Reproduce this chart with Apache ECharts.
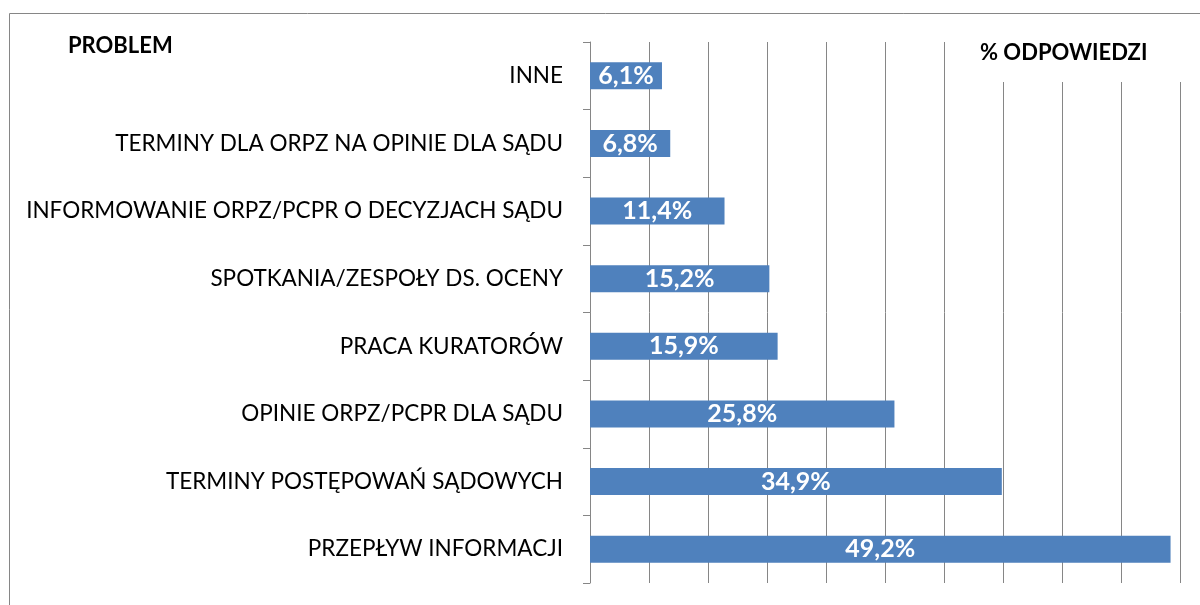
<!DOCTYPE html>
<html>
<head>
<meta charset="utf-8">
<script src="https://cdn.jsdelivr.net/npm/echarts@6/dist/echarts.min.js"></script>
<style>
    html, body { margin: 0; padding: 0; background: #fff; }
    #chart { width: 1200px; height: 605px; }
</style>
</head>
<body>
<div id="chart"></div>
<script>
// kategorie od góry do dołu
const categories = [
    'INNE',
    'TERMINY DLA ORPZ NA OPINIE DLA SĄDU',
    'INFORMOWANIE ORPZ/PCPR O DECYZJACH SĄDU',
    'SPOTKANIA/ZESPOŁY DS. OCENY',
    'PRACA KURATORÓW',
    'OPINIE ORPZ/PCPR DLA SĄDU',
    'TERMINY POSTĘPOWAŃ SĄDOWYCH',
    'PRZEPŁYW INFORMACJI'
];
const percentValues = [6.1, 6.8, 11.4, 15.2, 15.9, 25.8, 34.9, 49.2];

const fontFamily = 'Lato, "Open Sans", sans-serif';
const gray = '#868686';

var myChart = echarts.init(document.getElementById('chart'));

myChart.setOption({
    animation: false,
    backgroundColor: '#fff',
    grid: {
        left: 590,
        right: 20,
        top: 42,
        bottom: 22
    },
    xAxis: {
        type: 'value',
        min: 0,
        max: 50,
        interval: 5,
        axisLabel: { show: false },
        axisTick: { show: false },
        axisLine: { show: false },
        splitLine: {
            show: true,
            lineStyle: { color: gray, width: 1 }
        }
    },
    yAxis: {
        type: 'category',
        data: categories,
        inverse: true,
        axisLine: {
            show: true,
            lineStyle: { color: gray, width: 1 }
        },
        axisTick: {
            show: true,
            length: 7,
            lineStyle: { color: gray }
        },
        axisLabel: {
            margin: 27,
            color: '#000',
            fontSize: 22.5,
            fontFamily: fontFamily
        }
    },
    series: [
        {
            type: 'bar',
            data: percentValues,
            barCategoryGap: '60%',
            itemStyle: { color: '#4F81BD' },
            label: {
                show: true,
                position: 'inside',
                color: '#fff',
                fontWeight: 'bold',
                fontSize: 25,
                fontFamily: fontFamily,
                formatter: p => p.value.toFixed(1).replace('.', ',') + '%'
            }
        }
    ],
    graphic: [
        {
            type: 'rect',
            z: 100,
            silent: true,
            shape: { x: 9.5, y: 13.5, width: 1300, height: 700 },
            style: { fill: 'none', stroke: gray, lineWidth: 1 }
        },
        {
            type: 'rect',
            z: 50,
            silent: true,
            shape: { x: 960, y: 30, width: 250, height: 52 },
            style: { fill: '#fff' }
        },
        {
            type: 'text',
            z: 60,
            left: 980,
            top: 42,
            style: {
                text: '% ODPOWIEDZI',
                fill: '#000',
                font: 'bold 22px ' + fontFamily
            }
        },
        {
            type: 'text',
            z: 60,
            left: 68,
            top: 35,
            style: {
                text: 'PROBLEM',
                fill: '#000',
                font: 'bold 22px ' + fontFamily
            }
        }
    ]
});
</script>
</body>
</html>
